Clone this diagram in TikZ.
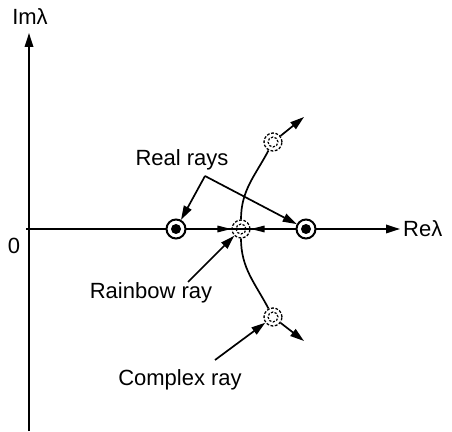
\documentclass[tikz,border=0pt]{standalone}
\usepackage{fontspec}
\setmainfont{Liberation Sans}
\usetikzlibrary{arrows.meta}
\begin{document}
\begin{tikzpicture}[x=1pt,y=1pt,
  lbl/.style={font=\fontsize{22}{24}\selectfont, inner sep=0pt},
  arr/.style={line width=1.7pt, -{Triangle[length=14pt,width=8.5pt]}},
  darr/.style={line width=1.6pt, dash pattern=on 5pt off 3pt, -{Triangle[length=14pt,width=6.5pt]}},
  solidpt/.style={circle, draw, line width=2pt, minimum size=19pt, inner sep=0pt},
  dashpt/.style={circle, draw, line width=1.3pt, dash pattern=on 2.8pt off 1.6pt, minimum size=18pt, inner sep=0pt}]
\useasboundingbox (0,0) rectangle (452,431);
% axes
\coordinate (vb) at (29,0);
\coordinate (vt) at (29,398);
\coordinate (hl) at (26,202);
\coordinate (hr) at (400,202);
\draw[arr] (vb) -- (vt);
\draw[arr] (hl) -- (hr);
\node[lbl] (im) at (30,414) {Imλ};
\node[lbl] (zero) at (14,185) {0};
\node[lbl, anchor=west] (re) at (403,202) {Reλ};
% points
\node[solidpt, fill=white] (L) at (176,202) {};
\node[solidpt, fill=white] (R) at (306,202) {};
\fill (L.center) circle (5pt);
\fill (R.center) circle (5pt);
\node[dashpt] (C) at (241,202) {};
\node[dashpt] (T) at (273,289) {};
\node[dashpt] (B) at (273,114) {};
\foreach \p in {C,T,B} \draw[line width=1.2pt, dash pattern=on 2.2pt off 1.6pt] (\p.center) circle (5pt);
% dashed arrows
\draw[darr] (L) -- (C);
\draw[darr] (R) -- (C);
% curve
\draw[line width=1.7pt] (T) to[out=-118,in=90] (C) to[out=-90,in=118] (B);
\coordinate (te) at (304,314);
\coordinate (be) at (304,90);
\draw[arr] (T) -- (te);
\draw[arr] (B) -- (be);
% labels
\node[lbl] (real) at (182,271) {Real rays};
\coordinate (rs) at (205,255);
\draw[arr] (rs) -- (L);
\draw[arr] (rs) -- (R);
\node[lbl] (rain) at (151,138) {Rainbow ray};
\coordinate (ras) at (188,149);
\draw[arr] (ras) -- (C);
\node[lbl] (comp) at (180,51) {Complex ray};
\coordinate (cs) at (215,71);
\draw[arr] (cs) -- (B);
\end{tikzpicture}
\end{document}
